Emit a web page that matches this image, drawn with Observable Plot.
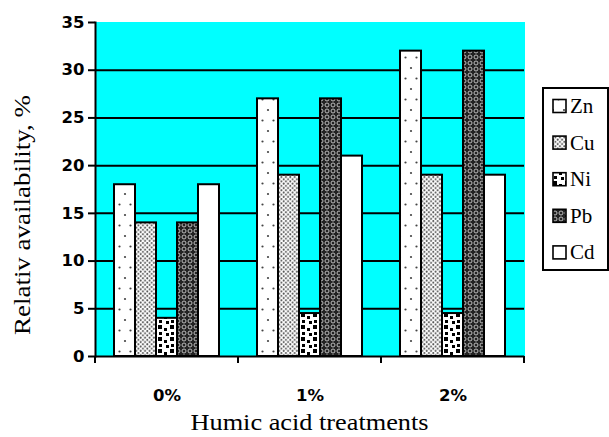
<!DOCTYPE html>
<html><head><meta charset="utf-8">
<script src="https://cdn.jsdelivr.net/npm/d3@7"></script>
<script src="https://cdn.jsdelivr.net/npm/@observablehq/plot@0.6"></script>
<style>body{margin:0;background:#fff}#chart{width:609px;height:437px}</style>
</head><body><div id="chart"></div>
<script>
const treatments = ["0%", "1%", "2%"];
const metals = ["Zn", "Cu", "Ni", "Pb", "Cd"];
const zn = [18, 27, 32];
const cu = [14, 19, 19];
const ni = [4, 4.5, 4.5];
const pb = [14, 27, 32];
const cd = [18, 21, 19];
const yTicks = [0, 5, 10, 15, 20, 25, 30, 35];
const yTitle = "Relativ availability, %";
const xTitle = "Humic acid treatments";

const series = {Zn: zn, Cu: cu, Ni: ni, Pb: pb, Cd: cd};
const patternId = {Zn: "p-zn", Cu: "p-cu", Ni: "p-ni", Pb: "p-pb", Cd: "p-cd"};
const rows = metals.flatMap(m => treatments.map((t, i) => ({
  treatment: t, metal: m, value: series[m][i], fill: `url(#${patternId[m]})`
})));

const chart = Plot.plot({
  width: 609, height: 437,
  marginLeft: 94, marginRight: 85, marginTop: 22, marginBottom: 81,
  style: {fontFamily: "DejaVu Sans", fontWeight: "bold", fontSize: "16.5px", color: "black", background: "white", overflow: "visible"},
  fx: {domain: treatments, padding: 0, label: null},
  x: {domain: metals, paddingInner: 0, paddingOuter: 0.76, axis: null},
  y: {domain: [0, 35], label: null},
  color: {type: "identity"},
  marks: [
    Plot.frame({fill: "#00ffff", stroke: "#00ffff", strokeWidth: 1}),
    Plot.gridY(yTicks.filter(v => v > 0 && v < 35), {stroke: "black", strokeOpacity: 1, strokeWidth: 2}),
    Plot.barY(rows, {fx: "treatment", x: "metal", y: "value", fill: "fill", stroke: "black", strokeWidth: 2}),
    Plot.ruleY([0], {stroke: "black", strokeWidth: 2}),
    Plot.axisY(yTicks, {tickSize: 7, tickPadding: 4, strokeWidth: 2, fontSize: 16.5, label: null}),
    Plot.axisFx({anchor: "bottom", tickSize: 0, tickPadding: 33, fontSize: 16.5, label: null}),
    Plot.frame({anchor: "left", facetAnchor: "left", stroke: "black", strokeWidth: 2})
  ]
});

const svg = d3.select(chart);
const defs = svg.insert("defs", ":first-child");
// Zn: sparse dots
let p = defs.append("pattern").attr("id", "p-zn").attr("patternUnits", "userSpaceOnUse").attr("width", 11).attr("height", 21);
p.append("rect").attr("width", 11).attr("height", 21).attr("fill", "white");
p.append("circle").attr("cx", 3).attr("cy", 5).attr("r", 1.1).attr("fill", "#444");
p.append("circle").attr("cx", 8.5).attr("cy", 15.5).attr("r", 1.1).attr("fill", "#444");
// Cu: dense dots
p = defs.append("pattern").attr("id", "p-cu").attr("patternUnits", "userSpaceOnUse").attr("width", 4.4).attr("height", 4.4);
p.append("rect").attr("width", 4.4).attr("height", 4.4).attr("fill", "white");
p.append("circle").attr("cx", 1.1).attr("cy", 1.1).attr("r", 1).attr("fill", "#555");
p.append("circle").attr("cx", 3.3).attr("cy", 3.3).attr("r", 1).attr("fill", "#555");
// Ni: black confetti squares
p = defs.append("pattern").attr("id", "p-ni").attr("patternUnits", "userSpaceOnUse").attr("width", 12).attr("height", 12);
p.append("rect").attr("width", 12).attr("height", 12).attr("fill", "white");
[[1, 1, 4, 4], [7, 4, 3, 3], [2, 8, 3, 3], [9, 9, 3, 3]].forEach(([x, y, w, h]) =>
  p.append("rect").attr("x", x).attr("y", y).attr("width", w).attr("height", h).attr("fill", "black"));
// Pb: dark lattice
p = defs.append("pattern").attr("id", "p-pb").attr("patternUnits", "userSpaceOnUse").attr("width", 6).attr("height", 6);
p.append("rect").attr("width", 6).attr("height", 6).attr("fill", "#222");
p.append("circle").attr("cx", 3).attr("cy", 3).attr("r", 2).attr("fill", "none").attr("stroke", "#bbb").attr("stroke-width", 1);
// Cd: plain white
p = defs.append("pattern").attr("id", "p-cd").attr("patternUnits", "userSpaceOnUse").attr("width", 4).attr("height", 4);
p.append("rect").attr("width", 4).attr("height", 4).attr("fill", "white");

// boundary ticks on the category axis, from Plot's fx scale
const fx = chart.scale("fx");
const yS = chart.scale("y");
const y0 = yS.apply(0);
const bounds = treatments.map(t => fx.apply(t)).concat([fx.apply(treatments[treatments.length - 1]) + fx.bandwidth]);
svg.append("g").selectAll("line").data(bounds).join("line")
  .attr("x1", d => d).attr("x2", d => d).attr("y1", y0).attr("y2", y0 + 7)
  .attr("stroke", "black").attr("stroke-width", 2);

// axis titles
svg.append("text").text(yTitle)
  .attr("transform", `translate(22,${215}) rotate(-90)`)
  .attr("text-anchor", "middle").attr("dominant-baseline", "central")
  .attr("textLength", 240).attr("lengthAdjust", "spacingAndGlyphs")
  .style("font-family", "Liberation Serif").style("font-weight", "normal").style("font-size", "24px");
svg.append("text").text(xTitle)
  .attr("x", (fx.apply(treatments[0]) + bounds[bounds.length - 1]) / 2).attr("y", 430)
  .attr("text-anchor", "middle")
  .attr("textLength", 238).attr("lengthAdjust", "spacingAndGlyphs")
  .style("font-family", "Liberation Serif").style("font-weight", "normal").style("font-size", "24px");

// legend
const lg = svg.append("g");
lg.append("rect").attr("x", 543).attr("y", 88).attr("width", 65).attr("height", 182)
  .attr("fill", "white").attr("stroke", "black").attr("stroke-width", 2);
metals.forEach((m, i) => {
  const cy = 106 + i * 36.6;
  lg.append("rect").attr("x", 553).attr("y", cy - 6.5).attr("width", 13).attr("height", 13)
    .attr("fill", `url(#${patternId[m]})`).attr("stroke", "black").attr("stroke-width", 1.6);
  lg.append("text").text(m).attr("x", 570).attr("y", cy).attr("text-anchor", "start").attr("dominant-baseline", "central")
    .style("font-family", "Liberation Serif").style("font-weight", "normal").style("font-size", "21px");
});

document.getElementById("chart").appendChild(chart);
</script>
</body></html>
